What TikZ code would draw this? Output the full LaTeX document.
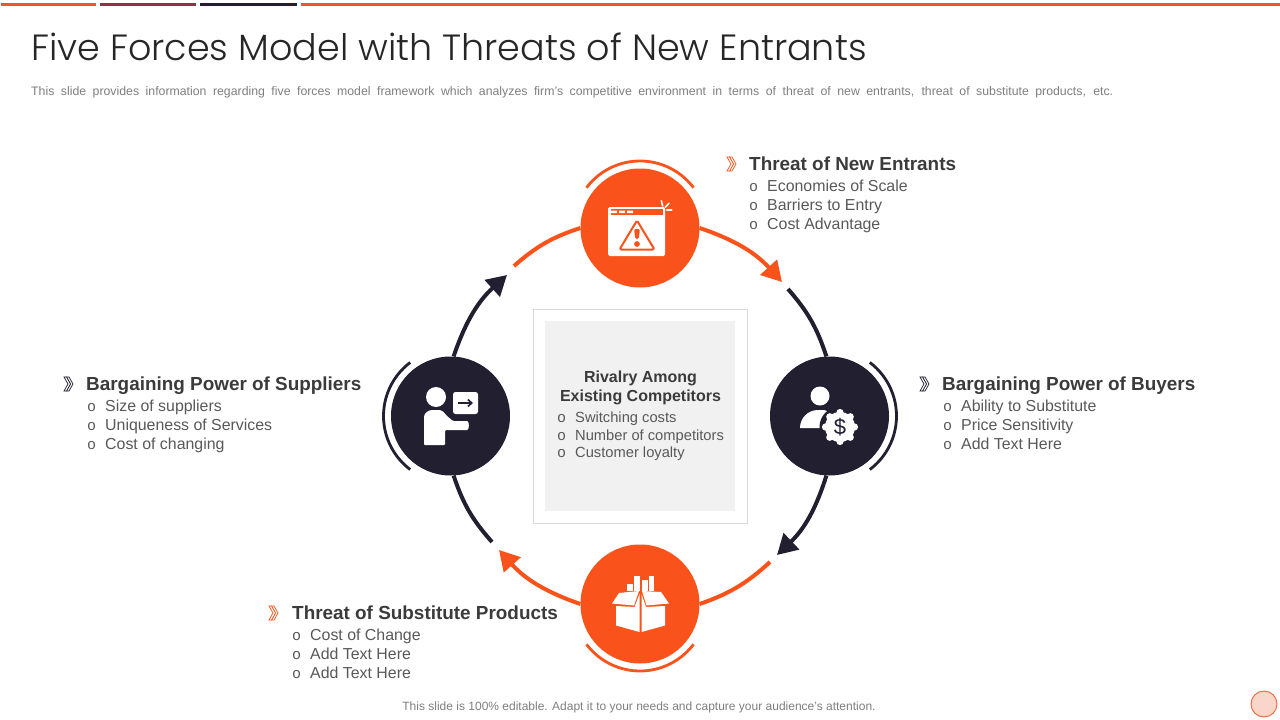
\documentclass[tikz,border=0pt]{standalone}
\usepackage{fontspec}
\setmainfont{Liberation Sans}
\newfontfamily\titlefont{Poppins Light}
\newfontfamily\bulfont{Liberation Mono}
\usetikzlibrary{arrows.meta}
\definecolor{org}{HTML}{F9531B}
\definecolor{drk}{HTML}{211F30}
\definecolor{bar}{HTML}{E8582A}
\definecolor{mar}{HTML}{943045}
\definecolor{txt}{HTML}{3B3B3B}
\definecolor{itm}{HTML}{595959}
\definecolor{gry}{HTML}{7F7F7F}
\tikzset{
 x=1pt,y=1pt,
 hub/.style={circle,minimum size=119pt,inner sep=0pt,fill=#1},
 ring/.style={line width=4pt,#1},
 head/.style={-{Triangle[length=20pt,width=22pt]}},
 halo/.style={line width=2.8pt,#1},
 heading/.style={anchor=base west,inner sep=0pt,yshift=.6pt,font=\fontsize{18.9}{24}\selectfont\bfseries,text=txt},
 item/.style={anchor=base west,inner sep=0pt,yshift=.6pt,font=\fontsize{15.9}{19}\selectfont,text=itm},
 bul/.style={anchor=base west,inner sep=0pt,yshift=.6pt,font=\fontsize{15}{16}\bulfont,text=itm},
 citem/.style={anchor=base west,inner sep=0pt,font=\fontsize{14.7}{17}\selectfont,text=itm},
 topbar/.style={line width=3pt,#1},
 chevshape/.style={draw=#1,line width=.7pt,line join=miter,fill=white}
}
\newcommand{\chevron}[3]{%
 \begin{scope}[shift={(#1,#2)}]
  \draw[chevshape=#3] (2.5,7)--(5,7)--(9,0)--(5,-7)--(2.5,-7)--(6.5,0)--cycle;
  \draw[chevshape=#3] (0,7)--(2.5,7)--(6.5,0)--(2.5,-7)--(0,-7)--(4,0)--cycle;
 \end{scope}}
\begin{document}
\begin{tikzpicture}
\useasboundingbox (0,-720) rectangle (1280,0);
\fill[white] (0,-720) rectangle (1280,0);
% top bars
\draw[topbar=bar] (1,-4.5)--(96,-4.5);
\draw[topbar=mar] (100,-4.5)--(196,-4.5);
\draw[topbar=drk] (200,-4.5)--(297,-4.5);
\draw[topbar=bar] (301,-4.5)--(1280,-4.5);
% title
\node[anchor=base west,inner sep=0pt,text=black!85,font=\fontsize{36.5}{44}\titlefont] (title) at (31,-60) {Five Forces Model with Threats of New Entrants};
\node[anchor=base west,inner sep=0pt,text=gry,font=\fontsize{12.3}{14}\selectfont] (sub) at (31,-95.5) {\makebox[1082pt][s]{This slide provides information regarding five forces model framework which analyzes firm’s competitive environment in terms of threat of new entrants, threat of substitute products, etc.}};
% centre
\node[draw=black!15,fill=white,line width=1pt,minimum width=214.5pt,minimum height=214pt,inner sep=0pt] (outerbox) at (640.5,-416) {};
\node[fill=black!5.5,minimum width=190pt,minimum height=190pt,inner sep=0pt] (innerbox) at (640,-416) {};
\node[anchor=base,inner sep=0pt,font=\fontsize{16}{19}\selectfont\bfseries,text=txt] (r1) at (640.5,-382) {Rivalry Among};
\node[anchor=base,inner sep=0pt,font=\fontsize{16}{19}\selectfont\bfseries,text=txt] (r2) at (640.5,-401) {Existing Competitors};
\node[bul] (rb1) at (557,-422.8) {o}; \node[citem] (ri1) at (575,-422) {Switching costs};
\node[bul] (rb2) at (557,-440.8) {o}; \node[citem] (ri2) at (575,-440) {Number of competitors};
\node[bul] (rb3) at (557,-457.8) {o}; \node[citem] (ri3) at (575,-457) {Customer loyalty};
% hubs
\node[hub=org] (top) at (640,-228) {};
\node[hub=drk] (right) at (829.5,-416) {};
\node[hub=org] (bottom) at (640,-604) {};
\node[hub=drk] (left) at (450.5,-416) {};
% free ends
\coordinate (tipTR) at (782,-282);
\coordinate (tailR) at (788,-289);
\coordinate (tipBR) at (777,-555);
\coordinate (tailB) at (770,-562);
\coordinate (tipBL) at (499,-550);
\coordinate (tailL) at (492,-542);
\coordinate (tipTL) at (507,-275);
\coordinate (tailT) at (514,-266);
% ring
\draw[ring=org,head] (top.east) to[bend left=14.5] (tipTR);
\draw[ring=drk] (tailR) to[bend left=11.5] (right.93);
\draw[ring=drk,head] (right.-93) to[bend left=14.5] (tipBR);
\draw[ring=org] (bottom.east) to[bend right=11.5] (tailB);
\draw[ring=org,head] (bottom.west) to[bend left=14.5] (tipBL);
\draw[ring=drk] (tailL) to[bend left=11.5] (left.-87);
\draw[ring=drk,head] (left.87) to[bend left=14.5] (tipTL);
\draw[ring=org] (tailT) to[bend left=11.5] (top.west);
% halos
\draw[halo=org] (top.center) ++(143:67) arc[start angle=143,end angle=37,radius=67];
\draw[halo=org] (bottom.center) ++(-143:67) arc[start angle=-143,end angle=-37,radius=67];
\draw[halo=drk] (left.center) ++(127:67) arc[start angle=127,end angle=233,radius=67];
\draw[halo=drk] (right.center) ++(53:67) arc[start angle=53,end angle=-53,radius=67];
% icon: window
\fill[white,rounded corners=1.5pt] (608,-207) rectangle (665,-256);
\fill[org] (610.5,-209.3) rectangle (662.5,-215);
\fill[white] (611,-210.6) rectangle (617,-213) (619,-210.6) rectangle (625,-213) (627,-210.6) rectangle (633,-213);
\draw[org,line width=2pt,line join=round,fill=white,rounded corners=1.5pt] (637,-220.5)--(654.5,-249.5)--(619.5,-249.5)--cycle;
\fill[org,rounded corners=2pt] (634,-229)--(640,-229)--(638.6,-239.5)--(635.4,-239.5)--cycle;
\fill[org] (637,-244) circle (2.9);
\draw[white,line width=1.6pt,line cap=round] (661.3,-200.7)--(662.7,-206) (665.3,-207.3)--(669,-203.3) (666.7,-210)--(671.7,-210);
% icon: presenter
\fill[white] (436,-397) circle (10);
\fill[white,rounded corners=1pt] (424,-445)--(424,-418) to[out=90,in=180] (433,-410)--(439,-410) to[out=0,in=135] (447,-416)--(453,-421)--(466,-421) to[out=0,in=0] (466,-430)--(445,-430)--(445,-445)--cycle;
\fill[white,rounded corners=2.5pt] (453,-392) rectangle (478,-414);
\draw[drk,line width=1.6pt,-{Straight Barb[length=4pt,width=7pt]}] (458,-403)--(473,-403);
% icon: person with gear
\fill[white] (820,-396) circle (9.5);
\fill[white] (800,-428) to[out=90,in=180] (818,-410)--(824,-410)--(830,-412)--(822,-428)--cycle;
\fill[drk] (840,-427) circle (20.5);
\fill[white] (840,-427) circle (15);
\foreach \a in {0,45,...,315} \fill[white] (840,-427) ++(\a:14.5) circle (3.6);
\node[inner sep=0pt,text=drk,font=\fontsize{22}{24}\selectfont] (dollar) at (840,-427) {\$};
% icon: box
\fill[white] (627,-584) rectangle (633,-591);
\fill[white] (634,-576) rectangle (640,-591);
\fill[white] (642,-580) rectangle (647.5,-591);
\fill[white] (648.5,-576) rectangle (654,-591);
\fill[white] (612,-603.5)--(619,-593)--(639,-591)--(634,-605.5)--cycle;
\fill[white] (669,-603.5)--(661,-592)--(642,-591)--(646.5,-605.5)--cycle;
\fill[white] (616,-606)--(634.5,-607)--(639.5,-594)--(639.5,-632)--(616,-625.5)--cycle;
\fill[white] (665,-606)--(646,-607)--(641.5,-594)--(641.5,-632)--(665,-625.5)--cycle;
% labels: new entrants
\chevron{727}{-164}{org}
\node[heading] (h1) at (749,-171) {Threat of New Entrants};
\node[bul] (b11) at (749,-192) {o}; \node[item] (i11) at (767,-192) {Economies of Scale};
\node[bul] (b12) at (749,-211) {o}; \node[item] (i12) at (767,-211) {Barriers to Entry};
\node[bul] (b13) at (749,-230) {o}; \node[item] (i13) at (767,-230) {Cost Advantage};
% labels: suppliers
\chevron{64}{-384}{drk}
\node[heading] (h2) at (86,-391) {Bargaining Power of Suppliers};
\node[bul] (b21) at (87,-412) {o}; \node[item] (i21) at (105,-412) {Size of suppliers};
\node[bul] (b22) at (87,-431) {o}; \node[item] (i22) at (105,-431) {Uniqueness of Services};
\node[bul] (b23) at (87,-450) {o}; \node[item] (i23) at (105,-450) {Cost of changing};
% labels: buyers
\chevron{920}{-384}{drk}
\node[heading] (h3) at (942,-391) {Bargaining Power of Buyers};
\node[bul] (b31) at (943,-412) {o}; \node[item] (i31) at (961,-412) {Ability to Substitute};
\node[bul] (b32) at (943,-431) {o}; \node[item] (i32) at (961,-431) {Price Sensitivity};
\node[bul] (b33) at (943,-450) {o}; \node[item] (i33) at (961,-450) {Add Text Here};
% labels: substitutes
\chevron{269}{-613}{org}
\node[heading] (h4) at (292,-620) {Threat of Substitute Products};
\node[bul] (b41) at (292,-641) {o}; \node[item] (i41) at (310,-641) {Cost of Change};
\node[bul] (b42) at (292,-660) {o}; \node[item] (i42) at (310,-660) {Add Text Here};
\node[bul] (b43) at (292,-679) {o}; \node[item] (i43) at (310,-679) {Add Text Here};
% footer
\node[anchor=base,inner sep=0pt,text=gry,font=\fontsize{12}{14}\selectfont] (foot) at (639,-710.5) {This slide is 100\% editable. Adapt it to your needs and capture your audience's attention.};
\node[circle,draw=bar!85,fill=bar!25,line width=1pt,minimum size=26pt,inner sep=0pt] (dot) at (1264,-704) {};
\end{tikzpicture}
\end{document}
